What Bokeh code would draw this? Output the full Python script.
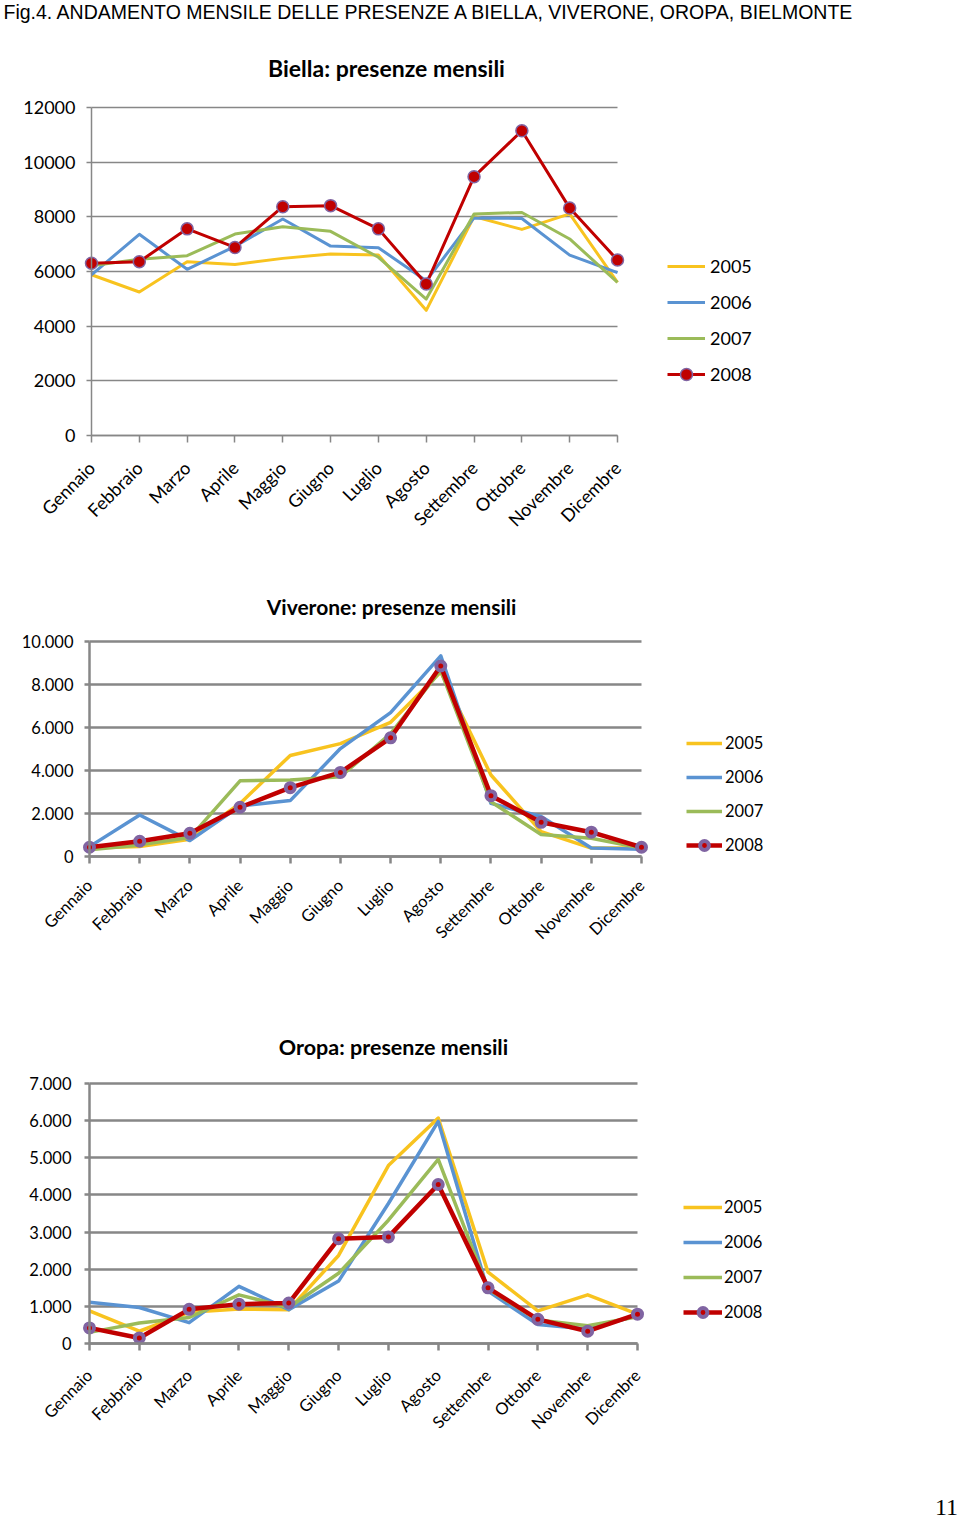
import math
from bokeh.plotting import figure
from bokeh.models import Range1d, FixedTicker, Label, Legend, LegendItem, Grid
from bokeh.layouts import column
from bokeh.embed import file_html
from bokeh.resources import INLINE

MONTHS = ["Gennaio", "Febbraio", "Marzo", "Aprile", "Maggio", "Giugno",
          "Luglio", "Agosto", "Settembre", "Ottobre", "Novembre", "Dicembre"]
YEARS = ["2005", "2006", "2007", "2008"]

# Biella
BIELLA_2005 = [5880, 5250, 6360, 6260, 6480, 6640, 6600, 4580, 8010, 7540, 8110, 5600]
BIELLA_2006 = [5880, 7360, 6080, 6920, 7920, 6930, 6870, 5660, 7960, 7940, 6600, 5960]
BIELLA_2007 = [6210, 6450, 6580, 7370, 7640, 7470, 6520, 4990, 8100, 8160, 7190, 5600]
BIELLA_2008 = [6300, 6360, 7560, 6880, 8370, 8410, 7560, 5540, 9470, 11150, 8320, 6420]
BIELLA_YTICKS = [0, 2000, 4000, 6000, 8000, 10000, 12000]
BIELLA_YLABELS = ["0", "2000", "4000", "6000", "8000", "10000", "12000"]

# Viverone
VIVERONE_2005 = [390, 460, 800, 2470, 4700, 5250, 6240, 8580, 3790, 1160, 390, 390]
VIVERONE_2006 = [460, 1930, 740, 2350, 2600, 5020, 6690, 9330, 2470, 1860, 400, 340]
VIVERONE_2007 = [310, 540, 880, 3520, 3560, 3710, 5720, 8650, 2550, 1020, 850, 390]
VIVERONE_2008 = [430, 710, 1080, 2290, 3200, 3910, 5520, 8860, 2830, 1590, 1130, 430]
VIVERONE_YTICKS = [0, 2000, 4000, 6000, 8000, 10000]
VIVERONE_YLABELS = ["0", "2.000", "4.000", "6.000", "8.000", "10.000"]

# Oropa
OROPA_2005 = [880, 330, 840, 930, 910, 2370, 4790, 6070, 1920, 880, 1310, 790]
OROPA_2006 = [1110, 970, 560, 1540, 910, 1680, 3770, 5980, 1410, 510, 390, 750]
OROPA_2007 = [300, 550, 700, 1310, 970, 1890, 3320, 4960, 1470, 630, 480, 720]
OROPA_2008 = [420, 150, 920, 1060, 1090, 2820, 2870, 4280, 1500, 650, 330, 790]
OROPA_YTICKS = [0, 1000, 2000, 3000, 4000, 5000, 6000, 7000]
OROPA_YLABELS = ["0", "1.000", "2.000", "3.000", "4.000", "5.000", "6.000", "7.000"]

PAGE_TITLE = "Fig.4. ANDAMENTO MENSILE DELLE PRESENZE A BIELLA, VIVERONE, OROPA, BIELMONTE"
PAGE_NUMBER = "11"

COLORS = ["#F8C31F", "#5A93D2", "#9BBB59", "#C00000"]
MARKER_LINE = "#8064A2"
GRID = "#878787"
FONT = "Lato"
W = 960
HAS_CROSS = "cross_bounds" in Grid.properties()


def make_chart(title, series, yticks, ylabels, g):
    H = g["H"]
    ax, xe, y0, yt = g["axis_x"], g["x_end"], g["y0"], g["y_top"]
    n = len(MONTHS) - 1
    ymax = yticks[-1]
    sx = (xe - ax) / float(n)
    sy = (y0 - yt) / float(ymax)
    p = figure(width=W, height=H, output_backend="svg", toolbar_location=None,
               title=None,
               x_range=Range1d(-ax / sx, (W - ax) / sx),
               y_range=Range1d((y0 - H) / sy, y0 / sy),
               min_border_left=0, min_border_right=0,
               min_border_top=0, min_border_bottom=0)
    p.outline_line_color = None
    p.background_fill_color = "white"
    p.border_fill_color = "white"

    xs = list(range(len(MONTHS)))

    # horizontal grid lines, only across the plotted months
    p.xgrid.grid_line_color = None
    if HAS_CROSS:
        p.ygrid.ticker = FixedTicker(ticks=yticks)
        p.ygrid.cross_bounds = (0, n)
        p.ygrid.grid_line_color = GRID
        p.ygrid.grid_line_width = g["grid_w"]
    else:
        p.ygrid.grid_line_color = None
        p.segment(x0=[0] * len(yticks), x1=[n] * len(yticks), y0=yticks, y1=yticks,
                  line_color=GRID, line_width=g["grid_w"])

    # x axis fixed at y = 0
    xa = p.xaxis[0]
    xa.fixed_location = 0
    xa.bounds = (0, n)
    xa.ticker = FixedTicker(ticks=xs)
    xa.major_label_overrides = {i: m for i, m in enumerate(MONTHS)}
    xa.major_label_orientation = math.pi / 4
    xa.axis_line_color = GRID
    xa.axis_line_width = g["grid_w"]
    xa.major_tick_in = 0
    xa.major_tick_out = 7
    xa.major_tick_line_color = GRID
    xa.major_tick_line_width = g["grid_w"]
    xa.minor_tick_line_color = None
    xa.major_label_text_font = FONT
    xa.major_label_text_font_size = g["xfs"]
    xa.major_label_text_color = "black"
    xa.major_label_standoff = g["xstand"]

    ya = p.yaxis[0]
    ya.fixed_location = 0
    ya.bounds = (0, ymax)
    ya.ticker = FixedTicker(ticks=yticks)
    ya.major_label_overrides = {t: l for t, l in zip(yticks, ylabels)}
    ya.axis_line_color = GRID
    ya.axis_line_width = g["grid_w"]
    ya.major_tick_line_color = GRID
    ya.major_tick_line_width = g["grid_w"]
    ya.minor_tick_line_color = None
    ya.major_tick_in = 0
    ya.major_tick_out = 5
    ya.major_label_text_font = FONT
    ya.major_label_text_font_size = g["yfs"]
    ya.major_label_text_color = "black"
    ya.major_label_standoff = g["ystand"]

    items = []
    for i, (yr, ys) in enumerate(zip(YEARS, series)):
        lw = g["lw_red"] if i == 3 else g["lw"]
        r = p.line(xs, ys, line_color=COLORS[i], line_width=lw, line_join="round")
        rs = [r]
        if i == 3:
            m = p.scatter(xs, ys, marker="circle", size=g["msize"],
                          fill_color=COLORS[3], line_color=MARKER_LINE,
                          line_width=g["mlw"])
            rs.append(m)
        items.append(LegendItem(label=yr, renderers=rs))

    lg = g["legend"]
    k = len(items)
    ih = lg["ih"]
    lh = k * ih + (k - 1) * lg["spacing"]
    legend = Legend(items=items,
                    location=(lg["x"], H - (lg["y"] + lh)),
                    orientation="vertical", spacing=lg["spacing"],
                    glyph_width=lg["gw"], glyph_height=ih, label_height=ih,
                    label_standoff=lg["stand"], padding=0, margin=0,
                    border_line_color=None, background_fill_alpha=0,
                    label_text_font=FONT, label_text_font_size=lg["fs"],
                    label_text_color="black")
    p.add_layout(legend, "center")

    tx, ty = g["title_pos"]
    p.add_layout(Label(x=tx, y=H - ty, x_units="screen", y_units="screen",
                       text=title, text_font=FONT, text_font_size=g["tfs"],
                       text_font_style="bold", text_align="center",
                       text_baseline="middle", text_color="black"))
    for (txt, (lx, ly), font, size, align) in g.get("extra", []):
        p.add_layout(Label(x=lx, y=H - ly, x_units="screen", y_units="screen",
                           text=txt, text_font=font, text_font_size=size,
                           text_align=align, text_baseline="middle",
                           text_color="black"))
    return p


g1 = dict(H=560, axis_x=91, x_end=617, y0=435, y_top=107, grid_w=1.5,
          xfs="18px", yfs="18px", xstand=22, ystand=11, lw=3, lw_red=3,
          msize=12, mlw=1.5, tfs="23px", title_pos=(386, 67),
          legend=dict(x=667, y=251, ih=30, spacing=6, gw=38, stand=5, fs="18px"),
          extra=[(PAGE_TITLE, (3, 11), "Liberation Sans", "19.5px", "left")])
g2 = dict(H=440, axis_x=89, x_end=641, y0=296, y_top=81, grid_w=2.5,
          xfs="16.5px", yfs="16.5px", xstand=19, ystand=11, lw=3.5, lw_red=4.5,
          msize=9, mlw=4, tfs="21px", title_pos=(391, 46),
          legend=dict(x=686, y=172, ih=22, spacing=12, gw=36, stand=3, fs="16.5px"))
g3 = dict(H=521, axis_x=89, x_end=637, y0=343, y_top=83, grid_w=2.5,
          xfs="16.5px", yfs="16.5px", xstand=22, ystand=13, lw=3.5, lw_red=4.5,
          msize=9, mlw=4, tfs="21.5px", title_pos=(393, 46),
          legend=dict(x=683, y=196, ih=22, spacing=13, gw=39, stand=2, fs="16.5px"),
          extra=[(PAGE_NUMBER, (946, 507), "Liberation Serif", "24px", "center")])

p1 = make_chart("Biella: presenze mensili",
                [BIELLA_2005, BIELLA_2006, BIELLA_2007, BIELLA_2008],
                BIELLA_YTICKS, BIELLA_YLABELS, g1)
p2 = make_chart("Viverone: presenze mensili",
                [VIVERONE_2005, VIVERONE_2006, VIVERONE_2007, VIVERONE_2008],
                VIVERONE_YTICKS, VIVERONE_YLABELS, g2)
p3 = make_chart("Oropa: presenze mensili",
                [OROPA_2005, OROPA_2006, OROPA_2007, OROPA_2008],
                OROPA_YTICKS, OROPA_YLABELS, g3)

layout = column(p1, p2, p3, spacing=0)
open("out.html", "w").write(file_html(layout, INLINE))
